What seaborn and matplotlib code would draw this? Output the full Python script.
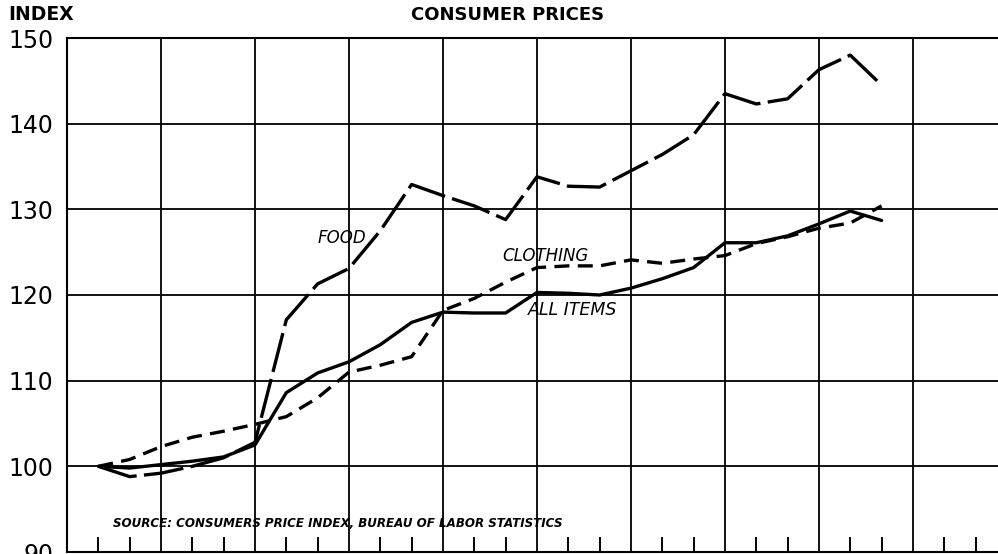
import matplotlib
matplotlib.use("Agg")
import matplotlib.pyplot as plt
import seaborn as sns
import pandas as pd

# ---- data ----
periods = [1, 2, 3, 4, 5, 6, 7, 8, 9, 10, 11, 12, 13,
           14, 15, 16, 17, 18, 19, 20, 21, 22, 23, 24, 25, 26]
food = [100.0, 98.8, 99.2, 100.0, 101.0, 102.8, 117.1, 121.3, 123.1, 127.5,
        132.9, 131.6, 130.4, 128.8, 133.8, 132.7, 132.6, 134.5, 136.4, 138.7,
        143.5, 142.3, 142.9, 146.3, 148.0, 144.5]
all_items = [100.0, 99.8, 100.2, 100.6, 101.1, 102.5, 108.6, 110.9, 112.2, 114.2,
             116.8, 118.0, 117.9, 117.9, 120.3, 120.2, 120.0, 120.8, 121.9, 123.2,
             126.1, 126.1, 126.9, 128.3, 129.8, 128.7]
clothing = [100.0, 100.8, 102.3, 103.4, 104.1, 104.9, 105.8, 108.0, 111.0, 111.8,
            112.8, 118.2, 119.6, 121.5, 123.2, 123.4, 123.4, 124.1, 123.7, 124.2,
            124.6, 126.0, 126.8, 127.8, 128.4, 130.4]
y_ticks = [90, 100, 110, 120, 130, 140, 150]
y_labels = ["90", "100", "110", "120", "130", "140", "150"]

df = pd.concat([
    pd.DataFrame({"period": periods, "value": all_items, "series": "ALL ITEMS"}),
    pd.DataFrame({"period": periods, "value": food, "series": "FOOD"}),
    pd.DataFrame({"period": periods, "value": clothing, "series": "CLOTHING"}),
], ignore_index=True)

sns.set_theme(style="white")
plt.rcParams["font.family"] = ["DejaVu Sans"]
plt.rcParams["text.color"] = "black"

W, H = 998, 554
fig = plt.figure(figsize=(W / 100, H / 100), dpi=100)
left_px, right_px, top_px, bot_px = 67, 998, 38, 552
ax = fig.add_axes([left_px / W, (H - bot_px) / H,
                   (right_px - left_px) / W, (bot_px - top_px) / H])

sns.lineplot(data=df, x="period", y="value", style="series",
             dashes={"ALL ITEMS": "", "FOOD": (12, 2.2), "CLOTHING": (4.5, 2.5)},
             color="black", linewidth=2.4, legend=False, sort=False, ax=ax)

xmax = (right_px - left_px) / 31.33
ax.set_xlim(0, xmax)
ax.set_ylim(90, 150)

ax.set_xticks(list(range(0, 30, 3)))
ax.set_xticks([i for i in range(1, 30) if i % 3 != 0], minor=True)
ax.tick_params(axis="x", which="major", length=0, labelbottom=False)
ax.tick_params(axis="x", which="minor", direction="in", length=11, width=1.4,
               color="black", bottom=True)
ax.set_yticks(y_ticks)
ax.set_yticklabels(y_labels)
ax.tick_params(axis="y", length=0, pad=10, labelsize=17, labelcolor="black")
ax.grid(True, which="major", color="black", linewidth=1.3)
ax.set_xlabel("")
ax.set_ylabel("")

for side in ["left", "top", "bottom"]:
    ax.spines[side].set_visible(True)
    ax.spines[side].set_color("black")
    ax.spines[side].set_linewidth(1.5)
ax.spines["right"].set_visible(False)

fig.text(8 / W, 1 - 15 / H, "INDEX", ha="left", va="center",
         fontsize=13.5, fontweight="bold", color="black")
fig.text(508 / W, 1 - 15 / H, "CONSUMER PRICES", ha="center", va="center",
         fontsize=13, fontweight="bold", color="black")

ax.text(8.0, 126.6, "FOOD", fontsize=12, style="italic", va="center", ha="left",
        color="black")
ax.text(13.9, 124.6, "CLOTHING", fontsize=12, style="italic", va="center", ha="left",
        color="black")
ax.text(14.7, 118.2, "ALL ITEMS", fontsize=12.5, style="italic", va="center", ha="left",
        color="black")
ax.text(1.47, 93.3, "SOURCE: CONSUMERS PRICE INDEX, BUREAU OF LABOR STATISTICS",
        fontsize=8.6, style="italic", fontweight="bold", va="center", ha="left",
        color="black")

fig.savefig("out.png", dpi=100)
